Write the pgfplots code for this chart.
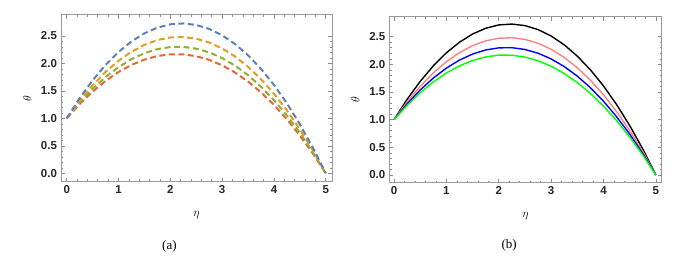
\documentclass[border=0pt]{standalone}
\usepackage{pgfplots}
\pgfplotsset{compat=1.18}
\usepackage{fontspec}
\setmainfont{Liberation Serif}
\setsansfont{Liberation Sans}
\definecolor{mblue}{HTML}{5E81B5}
\definecolor{morange}{HTML}{E19C24}
\definecolor{mgreen}{HTML}{8FB032}
\definecolor{mred}{HTML}{EB6235}
\definecolor{pinkc}{rgb}{1,0.5,0.5}
\pgfplotsset{
  mstyle/.style={
    scale only axis,
    axis line style={draw=black!40, line width=0.8pt},
    every tick/.style={black!45, line width=0.6pt},
    major tick length=4pt, minor tick length=2.2pt,
    minor x tick num=4, minor y tick num=4,
    xtick={0,1,2,3,4,5}, xticklabels={0,1,2,3,4,5},
    ytick={0,0.5,1,1.5,2,2.5}, yticklabels={0.0,0.5,1.0,1.5,2.0,2.5},
    tick label style={font=\fontsize{11.5}{13}\selectfont\sffamily\bfseries, text=black!85},
    xticklabel style={yshift=-0.5pt},
    yticklabel style={xshift=-0.5pt},
    clip mode=individual,
  }
}
\begin{document}
\begin{tikzpicture}
\path[use as bounding box] (0pt,0pt) rectangle (677pt,257pt);
\begin{axis}[mstyle, at={(61pt,75.3pt)}, anchor=south west,
  width=271pt, height=167pt,
  xmin=-0.11, xmax=5.12, ymin=-0.153, ymax=2.887]
\addplot[mred, line width=2pt, dash pattern=on 6pt off 3.5pt] coordinates {
(0,1) (0.25,1.260) (0.5,1.487) (0.75,1.682) (1,1.844) (1.25,1.973) (1.5,2.070) (1.75,2.134) (2,2.166) (2.25,2.165) (2.5,2.131) (2.75,2.065) (3,1.966) (3.25,1.834) (3.5,1.670) (3.75,1.473) (4,1.244) (4.25,0.982) (4.5,0.687) (4.75,0.360) (5,0)};
\addplot[mgreen, line width=2pt, dash pattern=on 6pt off 3.5pt] coordinates {
(0,1) (0.25,1.286) (0.5,1.537) (0.75,1.752) (1,1.932) (1.25,2.077) (1.5,2.186) (1.75,2.260) (2,2.298) (2.25,2.301) (2.5,2.269) (2.75,2.201) (3,2.098) (3.25,1.960) (3.5,1.786) (3.75,1.577) (4,1.332) (4.25,1.052) (4.5,0.737) (4.75,0.386) (5,0)};
\addplot[morange, line width=2pt, dash pattern=on 6pt off 3.5pt] coordinates {
(0,1) (0.25,1.321) (0.5,1.602) (0.75,1.845) (1,2.048) (1.25,2.213) (1.5,2.338) (1.75,2.425) (2,2.472) (2.25,2.481) (2.5,2.450) (2.75,2.381) (3,2.272) (3.25,2.125) (3.5,1.938) (3.75,1.713) (4,1.448) (4.25,1.145) (4.5,0.802) (4.75,0.421) (5,0)};
\addplot[mblue, line width=2pt, dash pattern=on 6pt off 3.5pt] coordinates {
(0,1) (0.25,1.368) (0.5,1.692) (0.75,1.972) (1,2.208) (1.25,2.400) (1.5,2.548) (1.75,2.652) (2,2.712) (2.25,2.728) (2.5,2.700) (2.75,2.628) (3,2.512) (3.25,2.352) (3.5,2.148) (3.75,1.900) (4,1.608) (4.25,1.272) (4.5,0.892) (4.75,0.468) (5,0)};
\node[font=\fontsize{13}{14}\selectfont, rotate=90] at (axis description cs:-0.125,0.5) {$\theta$};
\node[font=\fontsize{13}{14}\selectfont] at (axis description cs:0.5,-0.2) {$\eta$};
\node[font=\fontsize{13}{15}\selectfont] at (axis description cs:0.4,-0.385) {(a)};
\end{axis}
\begin{axis}[mstyle, at={(389.3pt,74.3pt)}, anchor=south west,
  width=272.4pt, height=166pt,
  xmin=-0.09, xmax=5.11, ymin=-0.139, ymax=2.861]
\addplot[black, line width=1.4pt] coordinates {
(0,1) (0.25,1.368) (0.5,1.692) (0.75,1.972) (1,2.208) (1.25,2.400) (1.5,2.548) (1.75,2.652) (2,2.712) (2.25,2.728) (2.5,2.700) (2.75,2.628) (3,2.512) (3.25,2.352) (3.5,2.148) (3.75,1.900) (4,1.608) (4.25,1.272) (4.5,0.892) (4.75,0.468) (5,0)};
\addplot[pinkc, line width=1.4pt] coordinates {
(0,1) (0.25,1.321) (0.5,1.602) (0.75,1.845) (1,2.048) (1.25,2.213) (1.5,2.338) (1.75,2.425) (2,2.472) (2.25,2.481) (2.5,2.450) (2.75,2.381) (3,2.272) (3.25,2.125) (3.5,1.938) (3.75,1.713) (4,1.448) (4.25,1.145) (4.5,0.802) (4.75,0.421) (5,0)};
\addplot[blue, line width=1.4pt] coordinates {
(0,1) (0.25,1.286) (0.5,1.537) (0.75,1.752) (1,1.932) (1.25,2.077) (1.5,2.186) (1.75,2.260) (2,2.298) (2.25,2.301) (2.5,2.269) (2.75,2.201) (3,2.098) (3.25,1.960) (3.5,1.786) (3.75,1.577) (4,1.332) (4.25,1.052) (4.5,0.737) (4.75,0.386) (5,0)};
\addplot[green, line width=1.4pt] coordinates {
(0,1) (0.25,1.260) (0.5,1.487) (0.75,1.682) (1,1.844) (1.25,1.973) (1.5,2.070) (1.75,2.134) (2,2.166) (2.25,2.165) (2.5,2.131) (2.75,2.065) (3,1.966) (3.25,1.834) (3.5,1.670) (3.75,1.473) (4,1.244) (4.25,0.982) (4.5,0.687) (4.75,0.360) (5,0)};
\node[font=\fontsize{13}{14}\selectfont, rotate=90] at (axis description cs:-0.125,0.5) {$\theta$};
\node[font=\fontsize{13}{14}\selectfont] at (axis description cs:0.5,-0.2) {$\eta$};
\node[font=\fontsize{13}{15}\selectfont] at (axis description cs:0.44,-0.375) {(b)};
\end{axis}
\end{tikzpicture}
\end{document}
